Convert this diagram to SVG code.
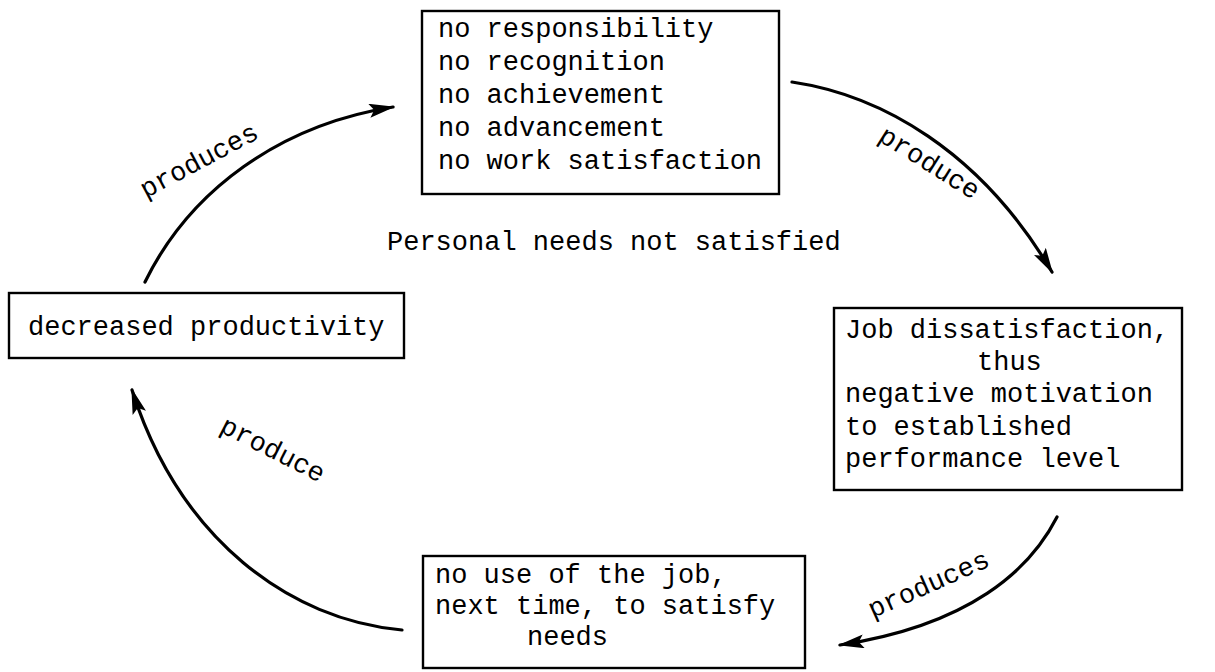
<svg xmlns="http://www.w3.org/2000/svg" width="1215" height="672" viewBox="0 0 1215 672">
  <style>
    .box { fill: none; stroke: #000; stroke-width: 2.4; }
    .t { font-family: "Liberation Mono", "Courier New", monospace; font-size: 27px; fill: #000; }
    .conn { fill: none; stroke: #000; stroke-width: 3.2; stroke-linecap: round; }
  </style>
  <defs>
    <marker id="ah" viewBox="0 0 26 14" refX="24" refY="7" markerWidth="26" markerHeight="14" markerUnits="userSpaceOnUse" orient="auto">
      <path d="M0,0 L26,7 L0,14 L5,7 Z" fill="#000"/>
    </marker>
  </defs>
  <rect width="1215" height="672" fill="#fff"/>

  <g id="node-top">
    <rect class="box" x="422" y="11" width="357" height="183"/>
    <text class="t" x="438" y="37">no responsibility</text>
    <text class="t" x="438" y="70">no recognition</text>
    <text class="t" x="438" y="103">no achievement</text>
    <text class="t" x="438" y="136">no advancement</text>
    <text class="t" x="438" y="169">no work satisfaction</text>
  </g>

  <g id="node-center">
    <text class="t" x="387" y="250">Personal needs not satisfied</text>
  </g>

  <g id="node-right">
    <rect class="box" x="834" y="308" width="348" height="182"/>
    <text class="t" x="845" y="338">Job dissatisfaction,</text>
    <text class="t" x="977" y="370">thus</text>
    <text class="t" x="845" y="402">negative motivation</text>
    <text class="t" x="845" y="435">to established</text>
    <text class="t" x="845" y="467">performance level</text>
  </g>

  <g id="node-bottom">
    <rect class="box" x="423" y="556" width="382" height="112"/>
    <text class="t" x="435" y="583">no use of the job,</text>
    <text class="t" x="435" y="614">next time, to satisfy</text>
    <text class="t" x="527" y="645">needs</text>
  </g>

  <g id="node-left">
    <rect class="box" x="9" y="293" width="395" height="65"/>
    <text class="t" x="28" y="335">decreased productivity</text>
  </g>

  <g id="connectors">
    <path class="conn" d="M 792 82 C 880 95, 980 150, 1052 272" marker-end="url(#ah)"/>
    <path class="conn" d="M 1057 517 C 1030 570, 970 625, 840 645" marker-end="url(#ah)"/>
    <path class="conn" d="M 402 630 C 290 620, 180 540, 132 390" marker-end="url(#ah)"/>
    <path class="conn" d="M 145 282 C 190 190, 280 125, 393 107" marker-end="url(#ah)"/>
    <text class="t" text-anchor="middle" transform="translate(925 170) rotate(32)">produce</text>
    <text class="t" text-anchor="middle" transform="translate(932 592) rotate(-24)">produces</text>
    <text class="t" text-anchor="middle" transform="translate(269 457) rotate(27)">produce</text>
    <text class="t" text-anchor="middle" transform="translate(203 168) rotate(-28)">produces</text>
  </g>
</svg>
